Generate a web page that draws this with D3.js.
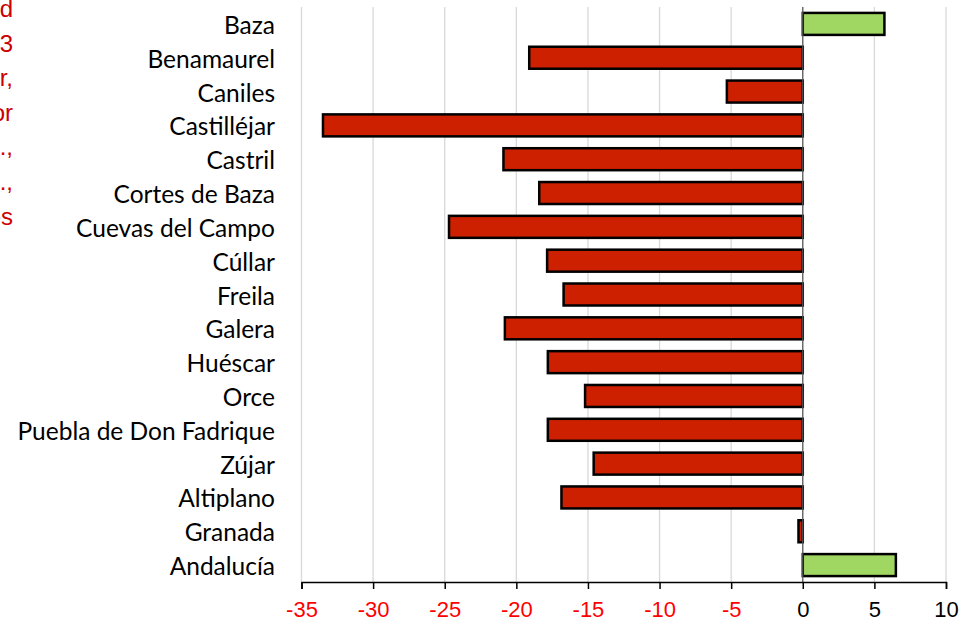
<!DOCTYPE html>
<html><head><meta charset="utf-8">
<script src="https://cdn.jsdelivr.net/npm/d3@7"></script>
<style>html,body{margin:0;padding:0;background:#fff;overflow:hidden}</style>
</head><body>
<svg id="chart" width="970" height="623"></svg>
<script>
const categories = ["Baza","Benamaurel","Caniles","Castilléjar","Castril","Cortes de Baza","Cuevas del Campo","Cúllar","Freila","Galera","Huéscar","Orce","Puebla de Don Fadrique","Zújar","Altiplano","Granada","Andalucía"];
const values = [5.7,-19.1,-5.3,-33.5,-20.9,-18.4,-24.7,-17.85,-16.7,-20.8,-17.8,-15.2,-17.8,-14.6,-16.85,-0.3,6.5];
const tickValues = [-35,-30,-25,-20,-15,-10,-5,0,5,10];
const noteLines = [
  "Variación de la natalidad",
  "entre 2003 y 2013",
  "en Baza, Benamaurel, Caniles, Castilléjar,",
  "Castril y resto de municipios, y su valor",
  "comparado con el Altiplano, Granada, Ayto.,",
  "Diputación, Junta, Ayto.,",
  "porcentajes"
];

const svg = d3.select("#chart");
const x = d3.scaleLinear().domain([-35,10]).range([301.5,946]);
const y = d3.scaleBand().domain(categories).range([7,582]).paddingInner(0.35).paddingOuter(0.175);

// gridlines
svg.append("g").selectAll("line").data(tickValues.filter(d=>d!==0)).join("line")
  .attr("x1",d=>x(d)).attr("x2",d=>x(d)).attr("y1",7).attr("y2",582)
  .attr("stroke","#d9d9d9").attr("stroke-width",1.3);

// bars
svg.append("g").selectAll("rect").data(categories).join("rect")
  .attr("x",(d,i)=>x(Math.min(0,values[i])))
  .attr("y",d=>y(d))
  .attr("width",(d,i)=>Math.abs(x(values[i])-x(0)))
  .attr("height",y.bandwidth())
  .attr("fill",(d,i)=>values[i]<0?"#cc2000":"#a0d662")
  .attr("stroke","#000").attr("stroke-width",2.5);

// zero line
svg.append("line").attr("x1",x(0)).attr("x2",x(0)).attr("y1",7).attr("y2",582)
  .attr("stroke","#555").attr("stroke-width",1.3);

// x axis
const xa = svg.append("g").attr("transform","translate(0,582)")
  .call(d3.axisBottom(x).tickValues(tickValues).tickSize(7).tickPadding(12).tickFormat(d=>String(d)));
xa.select(".domain").attr("stroke","#000").attr("stroke-width",1.5);
xa.selectAll(".tick line").attr("stroke","#000").attr("stroke-width",1.5);
xa.selectAll(".tick text").attr("font-family","Liberation Sans, Arial, sans-serif").attr("font-size",22)
  .attr("fill",d=>d<0?"#ff0000":"#000");

// category labels
svg.append("g").selectAll("text").data(categories).join("text")
  .attr("x",275).attr("y",d=>y(d)+y.bandwidth()/2+10)
  .attr("text-anchor","end").attr("font-family","Lato, 'Open Sans', sans-serif").attr("font-size",24.5)
  .attr("fill","#000").text(d=>d);

// clipped note text at left
svg.append("g").selectAll("text").data(noteLines).join("text")
  .attr("x",13).attr("y",(d,i)=>17+i*34.6)
  .attr("text-anchor","end").attr("font-family","Liberation Sans, Arial, sans-serif").attr("font-size",24)
  .attr("fill","#cc0000").text(d=>d);
</script>
</body></html>
